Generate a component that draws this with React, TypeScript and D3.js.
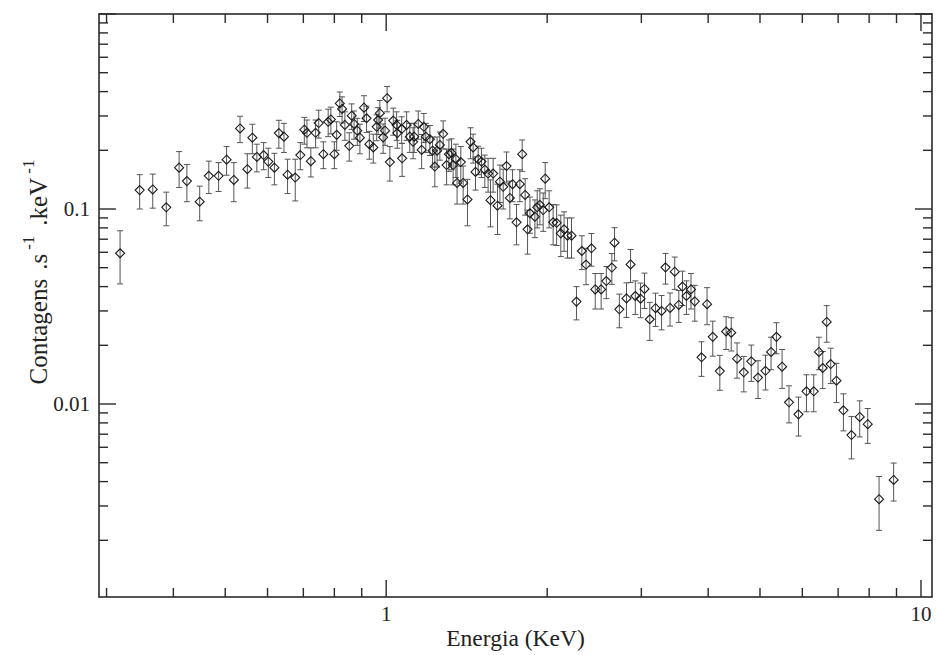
import React from "react";
import * as d3 from "d3";

const energy = [0.318,0.346,0.366,0.388,0.410,0.424,0.448,0.466,0.486,0.503,
0.519,0.533,0.550,0.562,0.573,0.590,0.602,0.618,0.630,0.644,
0.654,0.676,0.691,0.703,0.711,0.723,0.738,0.748,0.763,0.779,
0.788,0.800,0.808,0.819,0.827,0.837,0.853,0.862,0.871,0.883,
0.893,0.909,0.919,0.930,0.946,0.960,0.966,0.973,0.987,0.995,
1.004,1.016,1.031,1.046,1.049,1.069,1.071,1.092,1.107,1.123,
1.128,1.148,1.165,1.176,1.186,1.207,1.221,1.233,1.245,1.260,
1.278,1.297,1.310,1.325,1.334,1.350,1.357,1.379,1.393,1.419,
1.438,1.454,1.469,1.486,1.507,1.529,1.551,1.567,1.585,1.615,
1.632,1.655,1.679,1.703,1.723,1.753,1.778,1.796,1.819,1.838,
1.857,1.897,1.916,1.938,1.966,1.983,2.017,2.052,2.083,2.121,
2.151,2.183,2.221,2.269,2.322,2.364,2.420,2.460,2.523,2.580,
2.642,2.673,2.729,2.814,2.864,2.923,2.990,3.041,3.111,3.189,
3.273,3.329,3.395,3.464,3.525,3.581,3.643,3.715,3.776,3.887,
3.981,4.080,4.206,4.321,4.418,4.530,4.663,4.816,4.958,5.120,
5.244,5.367,5.499,5.665,5.901,6.108,6.302,6.445,6.551,6.664,
6.780,6.949,7.161,7.413,7.682,7.951,8.349,8.890];

const counts = [0.0593,0.125,0.126,0.102,0.163,0.139,0.109,0.148,0.148,0.179,
0.141,0.259,0.160,0.232,0.185,0.189,0.175,0.163,0.245,0.235,
0.150,0.145,0.189,0.255,0.246,0.176,0.246,0.276,0.191,0.280,
0.288,0.191,0.240,0.348,0.326,0.270,0.211,0.301,0.273,0.252,
0.232,0.331,0.292,0.215,0.207,0.264,0.286,0.310,0.233,0.252,
0.370,0.174,0.284,0.270,0.245,0.257,0.182,0.270,0.235,0.221,
0.235,0.273,0.201,0.264,0.235,0.228,0.199,0.165,0.199,0.213,
0.243,0.168,0.191,0.194,0.168,0.180,0.136,0.174,0.136,0.112,
0.221,0.207,0.155,0.180,0.175,0.159,0.152,0.111,0.152,0.104,
0.138,0.130,0.166,0.114,0.134,0.0855,0.134,0.191,0.118,0.0787,
0.0951,0.0913,0.102,0.105,0.0988,0.143,0.102,0.0855,0.085,0.075,
0.0787,0.073,0.073,0.0335,0.0609,0.0519,0.0629,0.0387,0.0387,0.0427,
0.0501,0.0672,0.0306,0.0348,0.052,0.0358,0.0347,0.0389,0.0272,0.031,
0.030,0.0502,0.0311,0.0477,0.0322,0.040,0.0358,0.0387,0.0336,0.01736,
0.0325,0.0221,0.01476,0.02354,0.0232,0.01707,0.01454,0.01656,0.01367,0.0148,
0.0185,0.0221,0.01553,0.0102,0.00885,0.01162,0.01162,0.0185,0.0153,0.02634,
0.01603,0.01317,0.00928,0.00693,0.00858,0.00788,0.00325,0.00408];

const errors = [0.018,0.025,0.025,0.02,0.034,0.03,0.022,0.028,0.025,0.03,
0.032,0.04,0.032,0.04,0.03,0.03,0.03,0.03,0.04,0.04,
0.03,0.035,0.03,0.04,0.04,0.03,0.04,0.045,0.03,0.045,
0.045,0.03,0.04,0.05,0.05,0.045,0.035,0.045,0.045,0.04,
0.04,0.05,0.045,0.035,0.035,0.04,0.045,0.05,0.04,0.04,
0.055,0.035,0.045,0.045,0.04,0.04,0.035,0.045,0.04,0.04,
0.04,0.045,0.04,0.045,0.04,0.04,0.035,0.035,0.035,0.035,
0.04,0.035,0.035,0.035,0.035,0.035,0.03,0.035,0.03,0.03,
0.04,0.035,0.03,0.03,0.03,0.03,0.03,0.03,0.03,0.03,
0.03,0.03,0.03,0.025,0.025,0.02,0.025,0.035,0.025,0.02,
0.02,0.02,0.022,0.022,0.022,0.03,0.022,0.02,0.02,0.018,
0.018,0.017,0.017,0.0065,0.012,0.011,0.012,0.008,0.008,0.008,
0.009,0.013,0.006,0.007,0.01,0.007,0.007,0.008,0.006,0.006,
0.006,0.009,0.006,0.009,0.006,0.008,0.007,0.008,0.007,0.0035,
0.007,0.0045,0.003,0.0045,0.0045,0.0035,0.003,0.0035,0.003,0.003,
0.0035,0.004,0.0035,0.0022,0.002,0.0025,0.0025,0.0035,0.0033,0.0056,
0.0033,0.003,0.002,0.0017,0.0018,0.0016,0.001,0.0009];

const xDomain = [0.2904, 10.486];
const yDomain = [0.001024, 1];
const xTickLabels = ["1", "10"];
const yTickLabels = ["0.1", "0.01"];
const xTitle = "Energia (KeV)";

const W = 937, H = 655;
const L = 99, R = 932, T = 14, B = 597;
const FONT = "Liberation Serif, Times New Roman, Times, DejaVu Serif, serif";

export default function App() {
  const x = d3.scaleLog().domain(xDomain).range([L, R]);
  const y = d3.scaleLog().domain(yDomain).range([B, T]);
  const isMajor = (v: number) => Math.abs(Math.log10(v) - Math.round(Math.log10(v))) < 1e-6;
  const xt = x.ticks().filter((v) => v >= xDomain[0] && v <= xDomain[1]);
  const yt = y.ticks().filter((v) => v >= yDomain[0] && v <= yDomain[1]);
  const MAJ = 17, MIN = 9;
  const axisColor = "#2a2a2a";
  const pts = energy.map((e, i) => ({ e, c: counts[i], s: errors[i] }));
  const r = 4.5;
  const textStyle = { fontFamily: FONT };
  return (
    <svg width={W} height={H} style={{ position: "absolute", left: 0, top: 0, background: "#fff" }}>
      <rect x={0} y={0} width={W} height={H} fill="#fff" />
      <g stroke="#555" strokeWidth={1} fill="none">
        {pts.map((p, i) => {
          const cx = x(p.e);
          const y1 = y(p.c + p.s);
          const y2 = y(Math.max(p.c - p.s, yDomain[0]));
          return (
            <g key={i}>
              <line x1={cx} x2={cx} y1={y1} y2={y2} />
              <line x1={cx - 3} x2={cx + 3} y1={y1} y2={y1} />
              <line x1={cx - 3} x2={cx + 3} y1={y2} y2={y2} />
            </g>
          );
        })}
      </g>
      <g stroke="#1a1a1a" strokeWidth={1.1} fill="none">
        {pts.map((p, i) => {
          const cx = x(p.e), cy = y(p.c);
          return <path key={i} d={`M${cx},${cy - r}L${cx + r},${cy}L${cx},${cy + r}L${cx - r},${cy}Z`} />;
        })}
      </g>
      <g stroke={axisColor} strokeWidth={1.4}>
        {xt.map((v, i) => {
          const len = isMajor(v) ? MAJ : MIN;
          const px = x(v);
          return (
            <g key={"x" + i}>
              <line x1={px} x2={px} y1={B} y2={B - len} />
              <line x1={px} x2={px} y1={T} y2={T + len} />
            </g>
          );
        })}
        {yt.map((v, i) => {
          const len = isMajor(v) ? MAJ : MIN;
          const py = y(v);
          return (
            <g key={"y" + i}>
              <line x1={L} x2={L + len} y1={py} y2={py} />
              <line x1={R} x2={R - len} y1={py} y2={py} />
            </g>
          );
        })}
      </g>
      <rect x={L} y={T} width={R - L} height={B - T} fill="none" stroke={axisColor} strokeWidth={1.6} />
      <g style={textStyle} fontSize={21} fill="#222">
        {xt.filter(isMajor).map((v, i) => (
          <text key={"xl" + i} x={x(v)} y={B + 24} textAnchor="middle">{xTickLabels[i]}</text>
        ))}
        {yt.filter((v) => isMajor(v) && v < 0.5).sort((a, b) => b - a).map((v, i) => (
          <text key={"yl" + i} x={90} y={y(v) + 7} textAnchor="end">{yTickLabels[i]}</text>
        ))}
      </g>
      <text style={textStyle} x={(L + R) / 2} y={646} textAnchor="middle" fontSize={23.5} fill="#222">{xTitle}</text>
      <text style={textStyle} transform={`translate(47,272) rotate(-90)`} textAnchor="middle" fontSize={25} fill="#222">
        <tspan>Contagens</tspan>
        <tspan dx={9}>.s</tspan>
        <tspan fontSize={17} dx={4} dy={-13}>-1</tspan>
        <tspan dx={10} dy={13}>.keV</tspan>
        <tspan fontSize={17} dx={4} dy={-13}>-1</tspan>
      </text>
    </svg>
  );
}
